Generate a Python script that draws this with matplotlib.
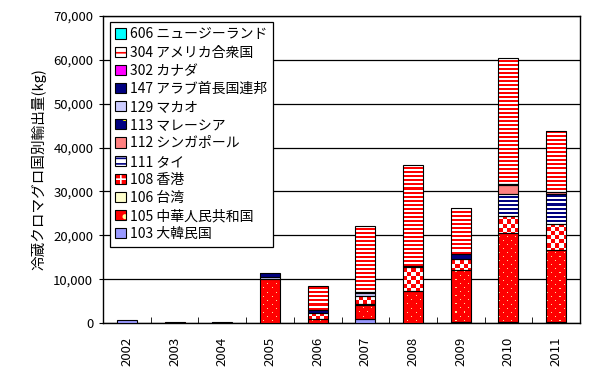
import numpy as np
import matplotlib
matplotlib.use("Agg")
import matplotlib.pyplot as plt
from matplotlib.patches import Patch
from matplotlib.colors import to_rgb
from matplotlib.ticker import FuncFormatter

plt.rcParams["font.family"] = ["Noto Sans CJK JP", "DejaVu Sans"]
plt.rcParams["hatch.linewidth"] = 1.2

# export volume of chilled bluefin tuna by country (kg)
years = ["2002", "2003", "2004", "2005", "2006", "2007", "2008", "2009", "2010", "2011"]
v103 = [600, 0, 0, 0, 0, 850, 0, 150, 300, 300]
v105 = [0, 200, 0, 10100, 900, 3270, 7300, 11900, 20200, 16250]
v106 = [0, 0, 0, 0, 0, 230, 0, 0, 0, 0]
v108 = [0, 0, 0, 0, 1300, 1900, 5450, 2500, 3960, 6040]
v111 = [0, 0, 0, 0, 0, 0, 0, 0, 4970, 6860]
v112 = [0, 0, 0, 0, 0, 0, 0, 0, 2130, 370]
v113 = [0, 0, 0, 0, 0, 0, 0, 0, 0, 0]
v129 = [0, 0, 0, 400, 0, 700, 0, 0, 0, 0]
v147 = [0, 0, 250, 900, 700, 200, 300, 1080, 200, 0]
v302 = [0, 0, 0, 0, 0, 0, 0, 0, 0, 0]
v304 = [0, 0, 0, 0, 5500, 15000, 23040, 10530, 28560, 13960]
v606 = [0, 0, 0, 0, 0, 0, 0, 0, 0, 0]

labels = ["103 大韓民国", "105 中華人民共和国", "106 台湾", "108 香港", "111 タイ",
          "112 シンガポール", "113 マレーシア", "129 マカオ", "147 アラブ首長国連邦",
          "302 カナダ", "304 アメリカ合衆国", "606 ニュージーランド"]
series = [v103, v105, v106, v108, v111, v112, v113, v129, v147, v302, v304, v606]

# fill: plain colour or a texture name; legend uses hatch approximations
fills = ["#9999ff", "dots", "#ffffcc", "checker", "navystripes", "#ff8080",
         "#000080", "#ccccff", "#000080", "#ff00ff", "redstripes", "#00ffff"]
legend_style = {
    "dots": ("#ff0000", "#ffff99", "."),
    "checker": ("#ff0000", "white", "++"),
    "navystripes": ("white", "#000080", "---"),
    "redstripes": ("white", "#ff0000", "---"),
}

fig = plt.figure(figsize=(5.91, 3.82), dpi=100)
ax = fig.add_axes([103 / 591, 1 - 323 / 382, 477 / 591, 307 / 382])

x = np.arange(len(years))
width = 0.42
xlim = (-0.5, len(years) - 0.5)
ylim = (0, 70000)

# pixel textures covering the whole axes
H, W = 307, 477
rr, cc = np.indices((H, W))


def texture(kind):
    img = np.ones((H, W, 3))
    if kind == "redstripes":
        img[(rr // 2) % 2 == 0] = to_rgb("#ff0000")
    elif kind == "navystripes":
        img[(rr // 2) % 2 == 0] = to_rgb("#000080")
    elif kind == "checker":
        img[((rr // 4) + (cc // 4)) % 2 == 0] = to_rgb("#ff0000")
    elif kind == "dots":
        img[:] = to_rgb("#ff0000")
        dot = ((rr % 8 == 0) & (cc % 8 == 0)) | ((rr % 8 == 4) & (cc % 8 == 4))
        img[dot] = to_rgb("#ffe0a0")
    return img


bottom = np.zeros(len(years))
handles = []
for vals, lab, fill in zip(series, labels, fills):
    vals = np.array(vals, dtype=float)
    mask = vals > 0
    if mask.any():
        textured = fill in legend_style
        bars = ax.bar(x[mask], vals[mask], width, bottom=bottom[mask],
                      color="white" if textured else fill, linewidth=0, zorder=3)
        if textured:
            tex = texture(fill)
            for b in bars:
                im = ax.imshow(tex, extent=(xlim[0], xlim[1], ylim[0], ylim[1]),
                               aspect="auto", interpolation="nearest", zorder=3.5)
                im.set_clip_path(b)
        ax.bar(x[mask], vals[mask], width, bottom=bottom[mask], fill=False,
               edgecolor="black", linewidth=0.8, zorder=4)
    bottom += vals
    if fill in legend_style:
        fc, hc, hatch = legend_style[fill]
        face = Patch(facecolor=fc, edgecolor=hc, hatch=hatch, linewidth=0)
    else:
        face = Patch(facecolor=fill, linewidth=0)
    if lab.startswith("113"):
        face = Patch(facecolor="#000080", edgecolor="#ffff00", hatch="o", linewidth=0)
    outline = Patch(facecolor="none", edgecolor="black", linewidth=0.8)
    handles.append((face, outline))

ax.set_xlim(*xlim)
ax.set_ylim(*ylim)
ax.set_yticks(np.arange(0, 70001, 10000))
ax.yaxis.set_major_formatter(FuncFormatter(lambda v, p: f"{int(v):,}"))
ax.grid(axis="y", color="black", linewidth=0.9, zorder=1)
ax.set_axisbelow(True)
ax.tick_params(axis="y", direction="out", length=3, labelsize=9.5, pad=4)

ax.set_xticks(x)
ax.set_xticklabels(years, rotation=90, fontsize=9.5)
ax.set_xticks(np.arange(0.5, len(years) - 1, 1), minor=True)
ax.tick_params(axis="x", which="major", length=0, pad=10)
ax.tick_params(axis="x", which="minor", direction="in", length=4)
for s in ax.spines.values():
    s.set_color("black")
    s.set_linewidth(1)

ax.set_ylabel("冷蔵クロマグロ国別輸出量(kg)", fontsize=10.5, labelpad=5)

leg = ax.legend(handles[::-1], labels[::-1], loc="upper left",
                bbox_to_anchor=(0.008, 0.99), fontsize=10, frameon=True,
                fancybox=False, edgecolor="black", framealpha=1,
                handlelength=0.75, handleheight=0.75, handletextpad=0.3,
                labelspacing=0.3, borderpad=0.4, borderaxespad=0.2)
leg.get_frame().set_linewidth(0.9)
leg.set_zorder(10)

fig.savefig("out.png", dpi=100)
